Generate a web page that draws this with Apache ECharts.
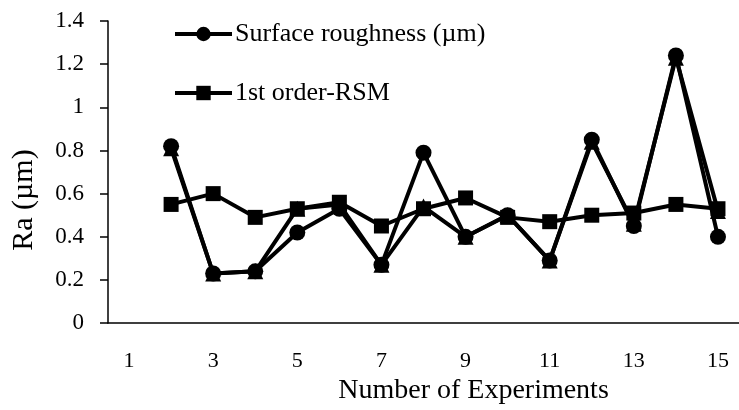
<!DOCTYPE html>
<html><head><meta charset="utf-8">
<script src="https://cdn.jsdelivr.net/npm/echarts@6/dist/echarts.min.js"></script>
<style>html,body{margin:0;padding:0;background:#fff}#c{width:739px;height:410px}</style>
</head><body><div id="c"></div>
<script>
const categories = ['1','2','3','4','5','6','7','8','9','10','11','12','13','14','15'];
const surfaceRoughness = ['-',0.82,0.23,0.24,0.42,0.53,0.27,0.79,0.40,0.50,0.29,0.85,0.45,1.24,0.40];
const firstOrderRSM   = ['-',0.55,0.60,0.49,0.53,0.56,0.45,0.53,0.58,0.49,0.47,0.50,0.51,0.55,0.53];
const secondOrderRSM  = ['-',0.81,0.23,0.24,0.53,0.55,0.27,0.54,0.40,0.50,0.29,0.84,0.46,1.23,0.52];
const yTicks = {min:0, max:1.4, interval:0.2};

const font = '"Liberation Serif","Times New Roman",serif';
const chart = echarts.init(document.getElementById('c'));
const lineStyle = {color:'#000', width:4};
const legendBase = {
  orient:'vertical', left:168, itemWidth:57, itemHeight:18, itemGap:0,
  lineStyle:{width:4},
  textStyle:{fontFamily:font, fontSize:26, lineHeight:28, color:'#000', padding:[0,0,0,-2]}
};
chart.setOption({
  animation:false,
  grid:{left:108, top:21, width:640, bottom:83},
  legend:[
    Object.assign({}, legendBase, {top:15, data:['Surface roughness (µm)']}),
    Object.assign({}, legendBase, {top:74, data:['1st order-RSM']})
  ],
  xAxis:{
    type:'category', data:categories, boundaryGap:true,
    name:'Number of Experiments', nameLocation:'middle', nameGap:51,
    nameTextStyle:{fontFamily:font, fontSize:28, color:'#000', padding:[0,0,0,100]},
    axisLine:{lineStyle:{color:'#000', width:1.5}},
    axisTick:{interval:0, length:8, lineStyle:{color:'#000', width:1.5}},
    axisLabel:{interval:1, margin:27, fontFamily:font, fontSize:22, color:'#000'},
    splitLine:{show:false}
  },
  yAxis:{
    type:'value', min:yTicks.min, max:yTicks.max, interval:yTicks.interval,
    name:'Ra (µm)', nameLocation:'middle', nameGap:69, nameRotate:90,
    nameTextStyle:{fontFamily:font, fontSize:30, color:'#000', padding:[0,56,0,0]},
    axisLine:{show:true, lineStyle:{color:'#000', width:1.5}},
    axisTick:{show:true, length:8, lineStyle:{color:'#000', width:1.5}},
    axisLabel:{margin:24, fontFamily:font, fontSize:23, color:'#000'},
    splitLine:{show:false}
  },
  series:[
    {name:'2nd order-RSM', type:'line', data:secondOrderRSM, symbol:'triangle', symbolSize:16,
     lineStyle:lineStyle, itemStyle:{color:'#000'}, z:2},
    {name:'1st order-RSM', type:'line', data:firstOrderRSM, symbol:'rect', symbolSize:15,
     lineStyle:lineStyle, itemStyle:{color:'#000'}, z:3},
    {name:'Surface roughness (µm)', type:'line', data:surfaceRoughness, symbol:'circle', symbolSize:16,
     lineStyle:lineStyle, itemStyle:{color:'#000'}, z:4}
  ]
});
</script></body></html>
